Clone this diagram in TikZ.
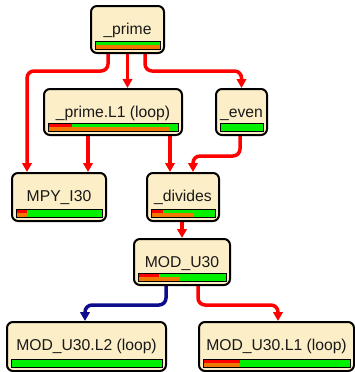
\documentclass[tikz,border=0pt]{standalone}
\usepackage{fontspec}
\setmainfont{Liberation Sans}
\usetikzlibrary{arrows.meta,fit,backgrounds}

\definecolor{boxfill}{HTML}{FCEEC6}
\definecolor{bargreen}{HTML}{00F000}
\definecolor{barred}{HTML}{FF0000}
\definecolor{barorange}{HTML}{F07800}
\definecolor{edgered}{HTML}{FF0000}
\definecolor{edgeblue}{HTML}{0C0C8C}

\tikzset{
  box/.style={draw=black, line width=2pt, fill=boxfill, rounded corners=6pt, inner sep=0pt},
  bar/.style={draw=black, line width=1pt, inner sep=0pt},
  lbl/.style={anchor=base, inner sep=0pt, font=\fontsize{15.7}{18}\selectfont, text=black!90},
  edge/.style={line width=3.5pt, rounded corners=7pt, draw=edgered,
               -{Triangle[length=9pt,width=9.5pt]}},
  calledge/.style={edge, draw=edgeblue},
}

% procbox{name}{x1}{y1}{x2}{y2}{label}{red end}{orange end}
\newcommand\procbox[8]{%
  \node[box, fit={(#2,#3) (#4,#5)}] (#1) {};
  \fill[bargreen] ({#2+4},{#5-12}) rectangle ({#4-4},{#5-3.5});
  \fill[barred] ({#2+4},{#5-12}) rectangle ({#7},{#5-7.75});
  \fill[barorange] ({#2+4},{#5-7.75}) rectangle ({#8},{#5-3.5});
  \node[bar, fit={({#2+4},{#5-12}) ({#4-4},{#5-3.5})}] (#1-bar) {};
  \node[lbl] (#1-txt) at ({(#2+#4)/2},{#3+28}) {#6};
}

\begin{document}
\begin{tikzpicture}[x=1pt, y=-1pt]
\useasboundingbox (0,0) rectangle (355,372);

\procbox{prime}{91}{6}{164}{53}{\_prime}{95}{160}
\procbox{primeloop}{44}{89}{182}{135}{\_prime.L1 (loop)}{72}{169}
\procbox{even}{216}{89}{267}{135}{\_even}{221}{221}
\procbox{mpy}{12}{173}{106}{221}{MPY\_I30}{27}{27}
\procbox{divides}{147}{173}{219}{221}{\_divides}{163}{194}
\procbox{mod}{134}{239}{230}{285}{MOD\_U30}{159}{180}
\procbox{modtwo}{7}{322}{166}{371}{MOD\_U30.L2 (loop)}{11}{11}
\procbox{modone}{199}{322}{354}{371}{MOD\_U30.L1 (loop)}{240}{240}

\begin{scope}[on background layer]
  \draw[edge] ([xshift=-19.5pt]prime.south) -- ++(0,17) -| ([xshift=-32pt]mpy.north);
  \draw[edge] (prime.south) -- (prime.south |- primeloop.north);
  \draw[edge] ([xshift=17.5pt]prime.south) -- ++(0,17) -| (even.north);
  \draw[edge] ([xshift=-25pt]primeloop.south) -- ([xshift=-25pt]primeloop.south |- mpy.north);
  \draw[edge] ([xshift=57pt]primeloop.south) -- ([xshift=57pt]primeloop.south |- divides.north);
  \draw[edge] ([xshift=-1.5pt]even.south) -- ++(0,20) -| ([xshift=10pt]divides.north);
  \draw[edge] ([xshift=-1pt]divides.south) -- ([xshift=-1pt]divides.south |- mod.north);
  \draw[calledge] ([xshift=-16pt]mod.south) -- ++(0,19) -| ([xshift=-1.5pt]modtwo.north);
  \draw[edge] ([xshift=16pt]mod.south) -- ++(0,19) -| ([xshift=1.5pt]modone.north);
\end{scope}
\end{tikzpicture}
\end{document}
